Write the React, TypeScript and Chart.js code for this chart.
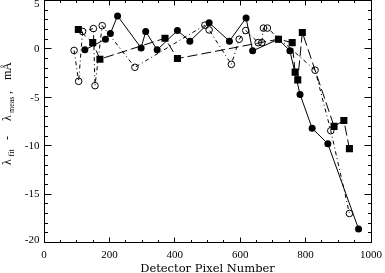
import React, { useEffect, useRef } from "react";
import { Chart, registerables } from "chart.js";

Chart.register(...registerables);

// Detector pixel (x) and residual in mÅ (y)
const filledCircleX = [125, 188, 203, 225, 297, 311, 346, 408, 446, 505, 567, 618, 638, 717, 752, 783, 820, 868, 962];
const filledCircleY = [-0.1, 1.0, 1.6, 3.4, 0.1, 1.8, -0.1, 1.9, 0.8, 2.7, 0.8, 3.2, -0.2, 1.0, -0.2, -4.7, -8.2, -9.8, -18.6];

const squareX = [105, 149, 171, 370, 408, 717, 759, 768, 776, 790, 887, 917, 934];
const squareY = [2.0, 0.65, -1.06, 1.1, -1.0, 1.0, 0.65, -2.4, -3.2, 1.7, -8.0, -7.4, -10.3];

const openCircleX = [92, 106, 118, 151, 156, 178, 278, 492, 505, 573, 597, 617, 655, 666, 671, 683, 829, 877, 934];
const openCircleY = [-0.16, -3.35, 1.8, 2.1, -3.8, 2.4, -1.9, 2.45, 1.96, -1.6, 1.0, 1.9, 0.65, 0.65, 2.15, 2.15, -2.2, -8.45, -17.0];

const xTicks = [0, 200, 400, 600, 800, 1000];
const yTicks = [5, 0, -5, -10, -15, -20];
const xMinorStep = 50;
const yMinorStep = 1;
const xTitle = "Detector Pixel Number";

const toPoints = (xs: number[], ys: number[]) => xs.map((x, i) => ({ x, y: ys[i] }));

const TICK_FONT = "11px 'Liberation Serif', serif";
const TITLE_FONT = "11.5px 'DejaVu Serif', serif";

const axesPlugin = {
  id: "idlAxes",
  afterDraw(chart: any) {
    const ctx = chart.ctx as CanvasRenderingContext2D;
    const { left, right, top, bottom } = chart.chartArea;
    const xs = chart.scales.x;
    const ys = chart.scales.y;
    const px = (v: number) => Math.floor(v) + 0.5;
    ctx.save();
    ctx.strokeStyle = "#000";
    ctx.fillStyle = "#000";
    ctx.lineWidth = 1;
    ctx.setLineDash([]);
    const L = px(left), R = px(right), T = px(top), B = px(bottom);
    ctx.strokeRect(L, T, R - L, B - T);

    ctx.beginPath();
    const xMin = xTicks[0], xMax = xTicks[xTicks.length - 1];
    for (let v = xMin; v <= xMax + 1e-9; v += xMinorStep) {
      const major = xTicks.includes(v);
      const len = major ? 5 : 2.5;
      const p = px(xs.getPixelForValue(v));
      ctx.moveTo(p, B); ctx.lineTo(p, B - len);
      ctx.moveTo(p, T); ctx.lineTo(p, T + len);
    }
    const yMin = Math.min(...yTicks), yMax = Math.max(...yTicks);
    for (let v = yMin; v <= yMax + 1e-9; v += yMinorStep) {
      const major = yTicks.includes(v);
      const len = major ? 7 : 3.5;
      const p = px(ys.getPixelForValue(v));
      ctx.moveTo(L, p); ctx.lineTo(L + len, p);
      ctx.moveTo(R, p); ctx.lineTo(R - len, p);
    }
    ctx.stroke();

    ctx.font = TICK_FONT;
    ctx.textAlign = "center";
    ctx.textBaseline = "middle";
    for (const v of xTicks) {
      ctx.fillText(String(v), xs.getPixelForValue(v), bottom + 12.5);
    }
    ctx.textAlign = "right";
    for (const v of yTicks) {
      let p = ys.getPixelForValue(v);
      p = Math.min(Math.max(p, top + 3.5), bottom - 3);
      ctx.fillText(String(v), left - 4.5, p + 0.5);
    }

    ctx.font = TITLE_FONT;
    ctx.textAlign = "center";
    ctx.textBaseline = "alphabetic";
    ctx.fillText(xTitle, (left + right) / 2, 272);

    ctx.translate(11, 165);
    ctx.rotate(-Math.PI / 2);
    ctx.textAlign = "left";
    const main = "12px 'Liberation Serif', serif";
    const sub = "8px 'Liberation Serif', serif";
    const parts: [string, number, string, number][] = [
      ["λ", 0, main, 0],
      ["fit", 8.5, sub, 2.5],
      ["-", 25, main, 0],
      ["λ", 44, main, 0],
      ["meas", 52, sub, 2.5],
      [",", 71, main, 0],
      ["mÅ", 85, main, 0],
    ];
    for (const [t, x, f, dy] of parts) {
      ctx.font = f;
      ctx.fillText(t, x, dy);
    }
    ctx.restore();
  },
};

export default function App() {
  const ref = useRef<HTMLCanvasElement | null>(null);
  useEffect(() => {
    if (!ref.current) return;
    const chart = new Chart(ref.current, {
      type: "scatter",
      data: {
        datasets: [
          {
            data: toPoints(openCircleX, openCircleY),
            showLine: true,
            borderColor: "#000",
            borderWidth: 1,
            borderDash: [4, 3, 1, 3],
            pointStyle: "circle",
            pointRadius: 3.3,
            pointBorderWidth: 1,
            pointBorderColor: "#000",
            pointBackgroundColor: "rgba(0,0,0,0)",
          },
          {
            data: toPoints(squareX, squareY),
            showLine: true,
            borderColor: "#000",
            borderWidth: 1,
            borderDash: [10, 4],
            pointStyle: "rect",
            pointRadius: 5,
            pointBorderWidth: 0,
            pointBackgroundColor: "#000",
            pointBorderColor: "#000",
          },
          {
            data: toPoints(filledCircleX, filledCircleY),
            showLine: true,
            borderColor: "#000",
            borderWidth: 1,
            pointStyle: "circle",
            pointRadius: 3.5,
            pointBorderWidth: 0,
            pointBackgroundColor: "#000",
            pointBorderColor: "#000",
          },
        ],
      },
      options: {
        animation: false,
        responsive: false,
        devicePixelRatio: 1,
        events: [],
        layout: { autoPadding: false, padding: { left: 44, right: 14, top: 0.5, bottom: 30.5 } },
        plugins: { legend: { display: false }, tooltip: { enabled: false } },
        scales: {
          x: { type: "linear", min: 0, max: 1000, display: false },
          y: { type: "linear", min: -20, max: 5, display: false },
        },
      },
      plugins: [axesPlugin],
    });
    return () => chart.destroy();
  }, []);
  return (
    <div style={{ position: "absolute", left: 0, top: 0, width: 385, height: 273, background: "#fff" }}>
      <canvas ref={ref} width={385} height={273} />
    </div>
  );
}
